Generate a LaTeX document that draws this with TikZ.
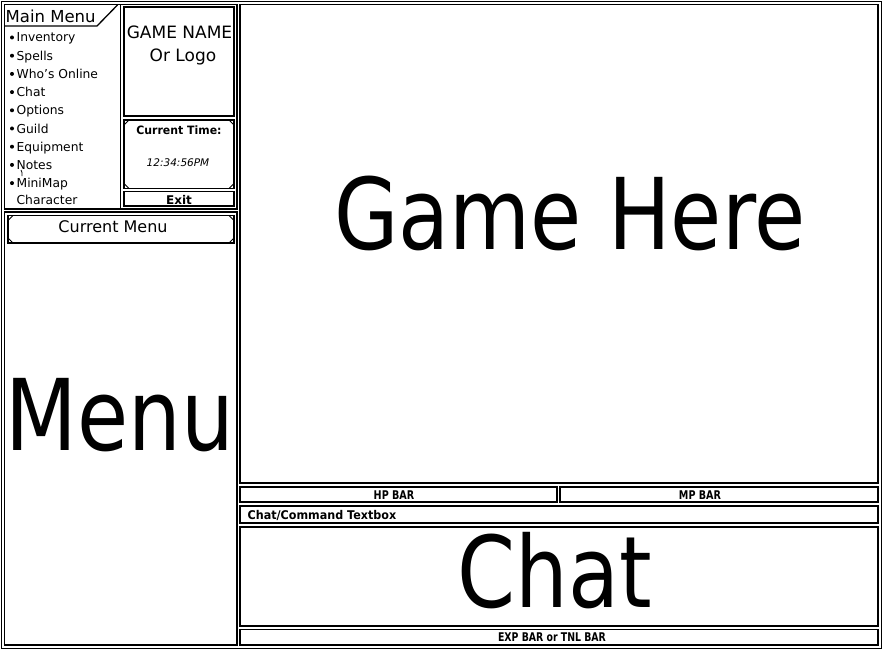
\documentclass[tikz,border=0pt]{standalone}
\usepackage{fontspec}
\setmainfont{DejaVu Sans}
\begin{document}
\begin{tikzpicture}[x=1pt,y=-1pt,line width=1.3pt,
  frame/.style={draw=black,line width=1.3pt},
  thin/.style={draw=black,line width=0.9pt},
  lbl/.style={inner sep=0pt,anchor=base},
  lblw/.style={inner sep=0pt,anchor=base west},
  item/.style={lblw,font=\fontsize{12.3}{12.3}\selectfont},
  bigtxt/.style={lbl,font=\fontsize{99}{99}\selectfont},
  boldlbl/.style={lbl,font=\fontsize{12}{12}\selectfont\bfseries}]
\useasboundingbox (0,0) rectangle (883,650);
\fill[white] (0,0) rectangle (883,650);
% outer frame
\draw[frame] (1.2,1.2) rectangle (881.8,648.8);
% left top panel
\draw[frame] (4.5,4.5) rectangle (237,209);
\draw[frame] (120.5,4.5) -- (120.5,209);
% main menu tab
\draw[frame] (4.5,26) -- (97,26) -- (117.5,5);
\node[lblw,font=\fontsize{16.5}{16.5}\selectfont] (mainmenu) at (5,23) {Main Menu};
% menu items
\foreach \txt [count=\i from 0] in {Inventory,Spells,Who's Online,Chat,Options,Guild,Equipment,Notes,MiniMap}{
  \pgfmathsetmacro\yy{42+18.2*\i}
  \node[item] (item\i) at (16,\yy) {\txt};
  \fill (12,\yy-4.5) circle (2pt);
}
\node[item] (itemchar) at (16,204) {Character};
% cursor artifact
\draw[line width=0.8pt] (21,170) -- (22,172.5) -- (22,176);
% game name box
\draw[frame] (124,7) rectangle (234,116);
\node[lbl,font=\fontsize{17}{17}\selectfont] (gname) at (179.5,38.5) {GAME NAME};
\node[lbl,font=\fontsize{17}{17}\selectfont] (logo) at (183,62) {Or Logo};
% current time box
\draw[frame] (124,120) rectangle (234,188.5);
\draw[thin] (124,125) -- (129,120) (229,120) -- (234,125) (124,183.5) -- (129,188.5) (229,188.5) -- (234,183.5);
\node[lbl,font=\fontsize{11.5}{11.5}\selectfont\bfseries] (ctime) at (179,135) {\scalebox{0.95}[1]{Current Time:}};
\node[lbl,font=\fontsize{10.5}{10.5}\selectfont\itshape] (clock) at (178,166.5) {12:34:56PM};
% exit
\draw[frame] (124,191.5) rectangle (234,206);
\node[boldlbl] (exit) at (179,204) {Exit};
% left bottom panel
\draw[frame] (4.5,212) rectangle (237,645);
\draw[frame] (8,215.5) rectangle (234,243);
\draw[thin] (8,220.5) -- (13,215.5) (229,215.5) -- (234,220.5) (8,238) -- (13,243) (229,243) -- (234,238);
\node[lbl,font=\fontsize{16}{16}\selectfont] (curmenu) at (113,232) {Current Menu};
\node[bigtxt] (menu) at (120,450) {\scalebox{0.84}[1]{Menu}};
% game panel
\draw[frame] (240,4.5) rectangle (878,483);
\node[bigtxt] (game) at (570,249) {\scalebox{0.84}[1]{Game Here}};
% bars
\draw[frame] (240,487) rectangle (557,502);
\node[boldlbl] (hp) at (394,499) {\scalebox{0.8}[1]{HP BAR}};
\draw[frame] (560,487) rectangle (878,502);
\node[boldlbl] (mp) at (700,499) {\scalebox{0.8}[1]{MP BAR}};
\draw[frame] (240,506) rectangle (878,523);
\node[lblw,font=\fontsize{12}{12}\selectfont\bfseries] (chattb) at (247,519.5) {\scalebox{0.93}[1]{Chat/Command Textbox}};
\draw[frame] (240,527) rectangle (878,626);
\node[bigtxt] (chat) at (555,607) {\scalebox{0.84}[1]{Chat}};
\draw[frame] (240,629.5) rectangle (878,645);
\node[boldlbl] (exp) at (552,641.5) {\scalebox{0.78}[1]{EXP BAR or TNL BAR}};
\end{tikzpicture}
\end{document}
